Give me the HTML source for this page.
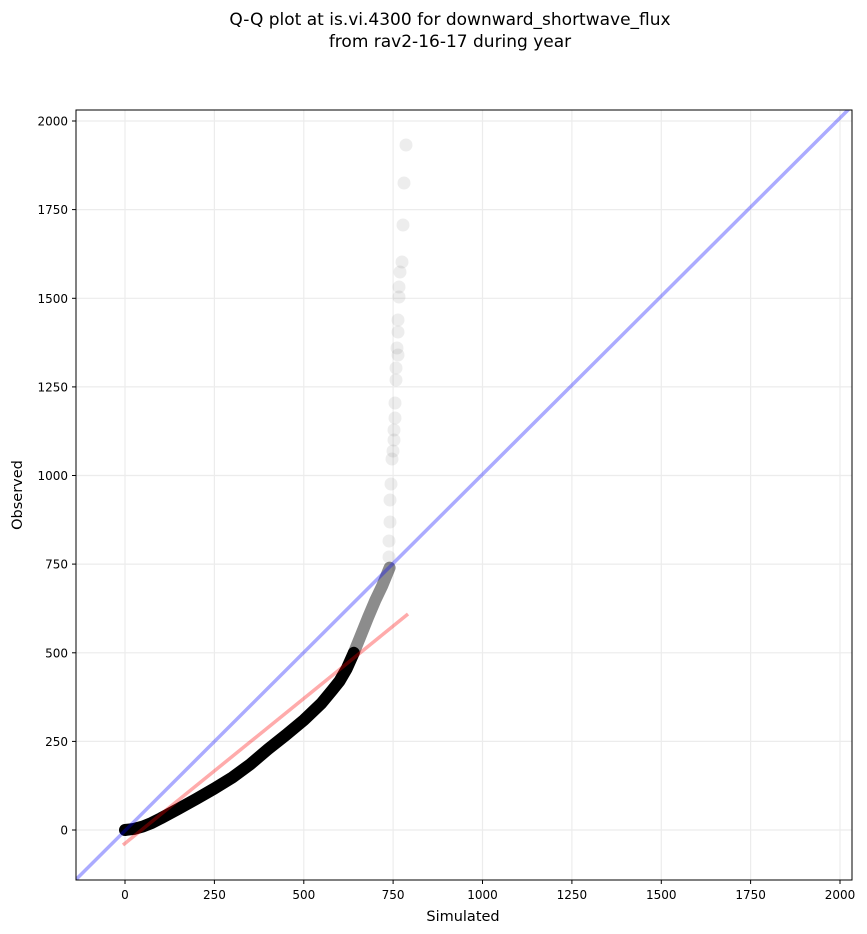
<!DOCTYPE html>
<html><head><style>body{margin:0;background:#fff}svg{display:block}</style></head><body>
<svg width="867" height="934" xmlns="http://www.w3.org/2000/svg" font-family="DejaVu Sans, Liberation Sans, sans-serif">
<rect width="867" height="934" fill="#fff"/>
<text x="450" y="25" font-size="17" text-anchor="middle">Q-Q plot at is.vi.4300 for downward_shortwave_flux</text>
<text x="450" y="47" font-size="17" text-anchor="middle">from rav2-16-17 during year</text>
<defs><clipPath id="c"><rect x="76" y="110" width="776" height="770"/></clipPath></defs>
<g stroke="#ececec" stroke-width="1.2">
<line x1="125" y1="110" x2="125" y2="880"/><line x1="214.4" y1="110" x2="214.4" y2="880"/><line x1="303.8" y1="110" x2="303.8" y2="880"/><line x1="393.1" y1="110" x2="393.1" y2="880"/><line x1="482.5" y1="110" x2="482.5" y2="880"/><line x1="571.9" y1="110" x2="571.9" y2="880"/><line x1="661.3" y1="110" x2="661.3" y2="880"/><line x1="750.6" y1="110" x2="750.6" y2="880"/><line x1="840" y1="110" x2="840" y2="880"/>
<line x1="76" y1="830" x2="852" y2="830"/><line x1="76" y1="741.4" x2="852" y2="741.4"/><line x1="76" y1="652.8" x2="852" y2="652.8"/><line x1="76" y1="564.1" x2="852" y2="564.1"/><line x1="76" y1="475.5" x2="852" y2="475.5"/><line x1="76" y1="386.9" x2="852" y2="386.9"/><line x1="76" y1="298.3" x2="852" y2="298.3"/><line x1="76" y1="209.6" x2="852" y2="209.6"/><line x1="76" y1="121" x2="852" y2="121"/>
</g>
<g clip-path="url(#c)">
<g fill="#000" fill-opacity="0.07">
<circle cx="389" cy="557" r="6.5"/><circle cx="389" cy="541" r="6.5"/><circle cx="390" cy="522" r="6.5"/><circle cx="390" cy="500" r="6.5"/><circle cx="391" cy="484" r="6.5"/><circle cx="392" cy="459" r="6.5"/><circle cx="393" cy="451" r="6.5"/><circle cx="394" cy="440" r="6.5"/><circle cx="394" cy="430" r="6.5"/><circle cx="395" cy="418" r="6.5"/><circle cx="395" cy="403" r="6.5"/><circle cx="396" cy="380" r="6.5"/><circle cx="396" cy="368" r="6.5"/><circle cx="398" cy="355" r="6.5"/><circle cx="397" cy="348" r="6.5"/><circle cx="398" cy="332" r="6.5"/><circle cx="398" cy="320" r="6.5"/><circle cx="399" cy="297" r="6.5"/><circle cx="399" cy="287" r="6.5"/><circle cx="400" cy="272" r="6.5"/><circle cx="402" cy="262" r="6.5"/><circle cx="403" cy="225" r="6.5"/><circle cx="404" cy="183" r="6.5"/><circle cx="406" cy="145" r="6.5"/>
</g>
<polyline points="389.6,567.7 382.4,585.4 375.3,600.3 368.1,617.3 361,635 353.8,652.8" fill="none" stroke="#000" stroke-opacity="0.45" stroke-width="12" stroke-linecap="round" stroke-linejoin="round"/>
<polyline points="353.8,652.8 346.7,668.7 339.5,681.1 332.4,690 321.6,703.1 303.8,720.1 285.9,735 268,749.2 250.1,764.4 232.3,777.5 214.4,788.5 196.5,798.8 178.6,808.7 160.8,818.3 151.8,822.9 142.9,826.5 133.9,828.9 125,830" fill="none" stroke="#000" stroke-width="12" stroke-linecap="round" stroke-linejoin="round"/>
<line x1="123" y1="845" x2="408" y2="614" stroke="#f00" stroke-opacity="0.33" stroke-width="3.5"/>
<line x1="76" y1="879.5" x2="852" y2="106" stroke="#00f" stroke-opacity="0.33" stroke-width="3.5"/>
</g>
<rect x="76" y="110" width="776" height="770" fill="none" stroke="#000" stroke-width="1"/>
<g stroke="#000"><line x1="125" y1="880" x2="125" y2="884"/><line x1="214.4" y1="880" x2="214.4" y2="884"/><line x1="303.8" y1="880" x2="303.8" y2="884"/><line x1="393.1" y1="880" x2="393.1" y2="884"/><line x1="482.5" y1="880" x2="482.5" y2="884"/><line x1="571.9" y1="880" x2="571.9" y2="884"/><line x1="661.3" y1="880" x2="661.3" y2="884"/><line x1="750.6" y1="880" x2="750.6" y2="884"/><line x1="840" y1="880" x2="840" y2="884"/>
<line x1="72" y1="830" x2="76" y2="830"/><line x1="72" y1="741.4" x2="76" y2="741.4"/><line x1="72" y1="652.8" x2="76" y2="652.8"/><line x1="72" y1="564.1" x2="76" y2="564.1"/><line x1="72" y1="475.5" x2="76" y2="475.5"/><line x1="72" y1="386.9" x2="76" y2="386.9"/><line x1="72" y1="298.3" x2="76" y2="298.3"/><line x1="72" y1="209.6" x2="76" y2="209.6"/><line x1="72" y1="121" x2="76" y2="121"/></g>
<g font-size="12" text-anchor="middle"><text x="125" y="899">0</text><text x="214.4" y="899">250</text><text x="303.8" y="899">500</text><text x="393.1" y="899">750</text><text x="482.5" y="899">1000</text><text x="571.9" y="899">1250</text><text x="661.3" y="899">1500</text><text x="750.6" y="899">1750</text><text x="840" y="899">2000</text></g>
<g font-size="12" text-anchor="end"><text x="68" y="834.5">0</text><text x="68" y="745.9">250</text><text x="68" y="657.3">500</text><text x="68" y="568.6">750</text><text x="68" y="480">1000</text><text x="68" y="391.4">1250</text><text x="68" y="302.8">1500</text><text x="68" y="214.1">1750</text><text x="68" y="125.5">2000</text></g>
<text x="463" y="921" font-size="14.5" text-anchor="middle">Simulated</text>
<text x="22" y="495" font-size="14.5" text-anchor="middle" transform="rotate(-90 22 495)">Observed</text>
</svg>
</body></html>
